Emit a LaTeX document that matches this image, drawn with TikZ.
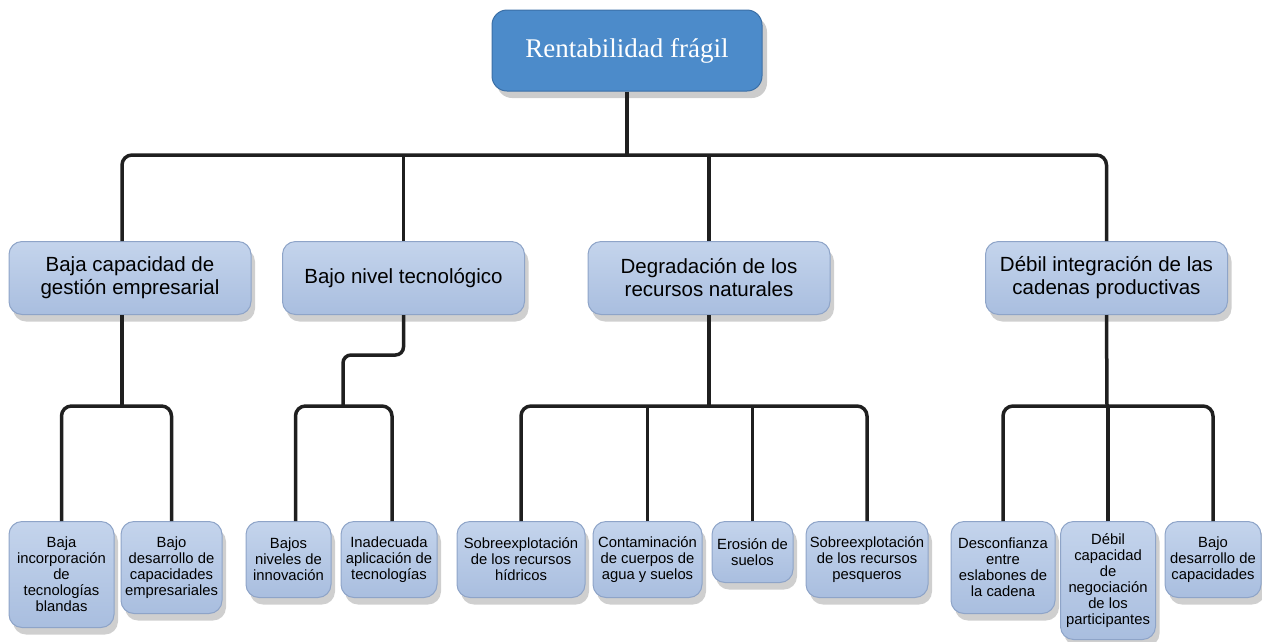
\documentclass[tikz,border=0pt]{standalone}
\usepackage{fontspec}
\setmainfont{Liberation Serif}
\setsansfont{Liberation Sans}
\usepackage{xcolor}
\usepackage{tikz}
\usetikzlibrary{shadows}

\definecolor{rootblue}{HTML}{4C8BCA}
\definecolor{rootedge}{HTML}{3B6FA6}
\definecolor{boxtop}{HTML}{C4D4EC}
\definecolor{boxbot}{HTML}{A9BEDF}
\definecolor{boxedge}{HTML}{8EA4C8}

\begin{document}
\begin{tikzpicture}[x=1pt, y=-1pt,
    root/.style={rectangle, rounded corners=15pt, draw=rootedge, line width=1pt, fill=rootblue, text=white,
        minimum width=270pt, minimum height=81pt, font=\fontsize{27}{30}\selectfont,
        drop shadow={opacity=0.4, shadow xshift=5pt, shadow yshift=-7pt}},
    cause/.style={rectangle, rounded corners=13pt, draw=boxedge, line width=1pt, top color=boxtop, bottom color=boxbot,
        minimum width=242pt, minimum height=73pt, align=center, font=\sffamily\fontsize{20.5}{23}\selectfont,
        drop shadow={opacity=0.38, shadow xshift=4pt, shadow yshift=-7pt}},
    leaf/.style={rectangle, rounded corners=13pt, draw=boxedge, line width=1pt, top color=boxtop, bottom color=boxbot,
        anchor=north, inner sep=2pt, align=center, font=\sffamily\fontsize{14.8}{16}\selectfont,
        drop shadow={opacity=0.38, shadow xshift=4pt, shadow yshift=-7pt}},
    link/.style={line width=3.5pt, draw=black!88, rounded corners=10pt}]
    \useasboundingbox (0,0) rectangle (1262,641);

    % top
    \node[root] (top) at (627,50.5) {Rentabilidad frágil};

    % causes
    \node[cause] (g1) at (130,278) {Baja capacidad de\\gestión empresarial};
    \node[cause] (g2) at (403.5,278) {Bajo nivel tecnológico};
    \node[cause] (g3) at (709,278) {Degradación de los\\recursos naturales};
    \node[cause] (g4) at (1106.5,278) {Débil integración de las\\cadenas productivas};

    % leaves
    \node[leaf, minimum width=105pt, minimum height=106pt] (a1) at (61.5,521) {Baja\\incorporación\\de\\tecnologías\\blandas};
    \node[leaf, minimum width=101pt, minimum height=92pt] (a2) at (171.5,521) {Bajo\\desarrollo de\\capacidades\\empresariales};
    \node[leaf, minimum width=85pt, minimum height=76pt] (b1) at (288.5,521) {Bajos\\niveles de\\innovación};
    \node[leaf, minimum width=96pt, minimum height=76pt] (b2) at (389,521) {Inadecuada\\aplicación de\\tecnologías};
    \node[leaf, minimum width=128pt, minimum height=76pt] (c1) at (521,521) {Sobreexplotación\\de los recursos\\hídricos};
    \node[leaf, minimum width=109pt, minimum height=76pt] (c2) at (647.5,521) {Contaminación\\de cuerpos de\\agua y suelos};
    \node[leaf, minimum width=81pt, minimum height=61pt] (c3) at (752.5,521) {Erosión de\\suelos};
    \node[leaf, minimum width=122pt, minimum height=76pt] (c4) at (867,521) {Sobreexplotación\\de los recursos\\pesqueros};
    \node[leaf, minimum width=104pt, minimum height=92pt] (d1) at (1003,521) {Desconfianza\\entre\\eslabones de\\la cadena};
    \node[leaf, minimum width=95pt, minimum height=118pt] (d2) at (1108,521) {Débil\\capacidad\\de\\negociación\\de los\\participantes};
    \node[leaf, minimum width=96pt, minimum height=76pt] (d3) at (1213,521) {Bajo\\desarrollo de\\capacidades};

    % connectors
    \coordinate (hub) at (627,155);
    \coordinate (h1) at (122,406);
    \coordinate (h2) at (343,406);
    \coordinate (h3) at (709,406);
    \coordinate (h4) at (1107,406);

    \draw[link] (top) -- (hub);
    \draw[link] ([xshift=-8pt]g1.north) |- (hub) -| (g4.north);
    \draw[link] (g2.north) -- (g2.north |- hub);
    \draw[link] (g3.north) -- (g3.north |- hub);

    \draw[link] (h1 |- g1.south) -- (h1);
    \draw[link] (a1.north) |- (h1) -| (a2.north);

    \draw[link, rounded corners=8pt] (g2.south) -- ++(0,40) -| (h2);
    \draw[link] ([xshift=7pt]b1.north) |- (h2) -| ([xshift=3pt]b2.north);

    \draw[link] (g3.south) -- (h3);
    \draw[link] (c1.north) |- (h3) -| (c4.north);
    \draw[link] (c2.north) -- (c2.north |- h3);
    \draw[link] (c3.north) -- (c3.north |- h3);

    \draw[link] (g4.south) -- (h4);
    \draw[link] (d1.north) |- (h4) -| (d3.north);
    \draw[link] (d2.north) -- (d2.north |- h4);
\end{tikzpicture}
\end{document}
